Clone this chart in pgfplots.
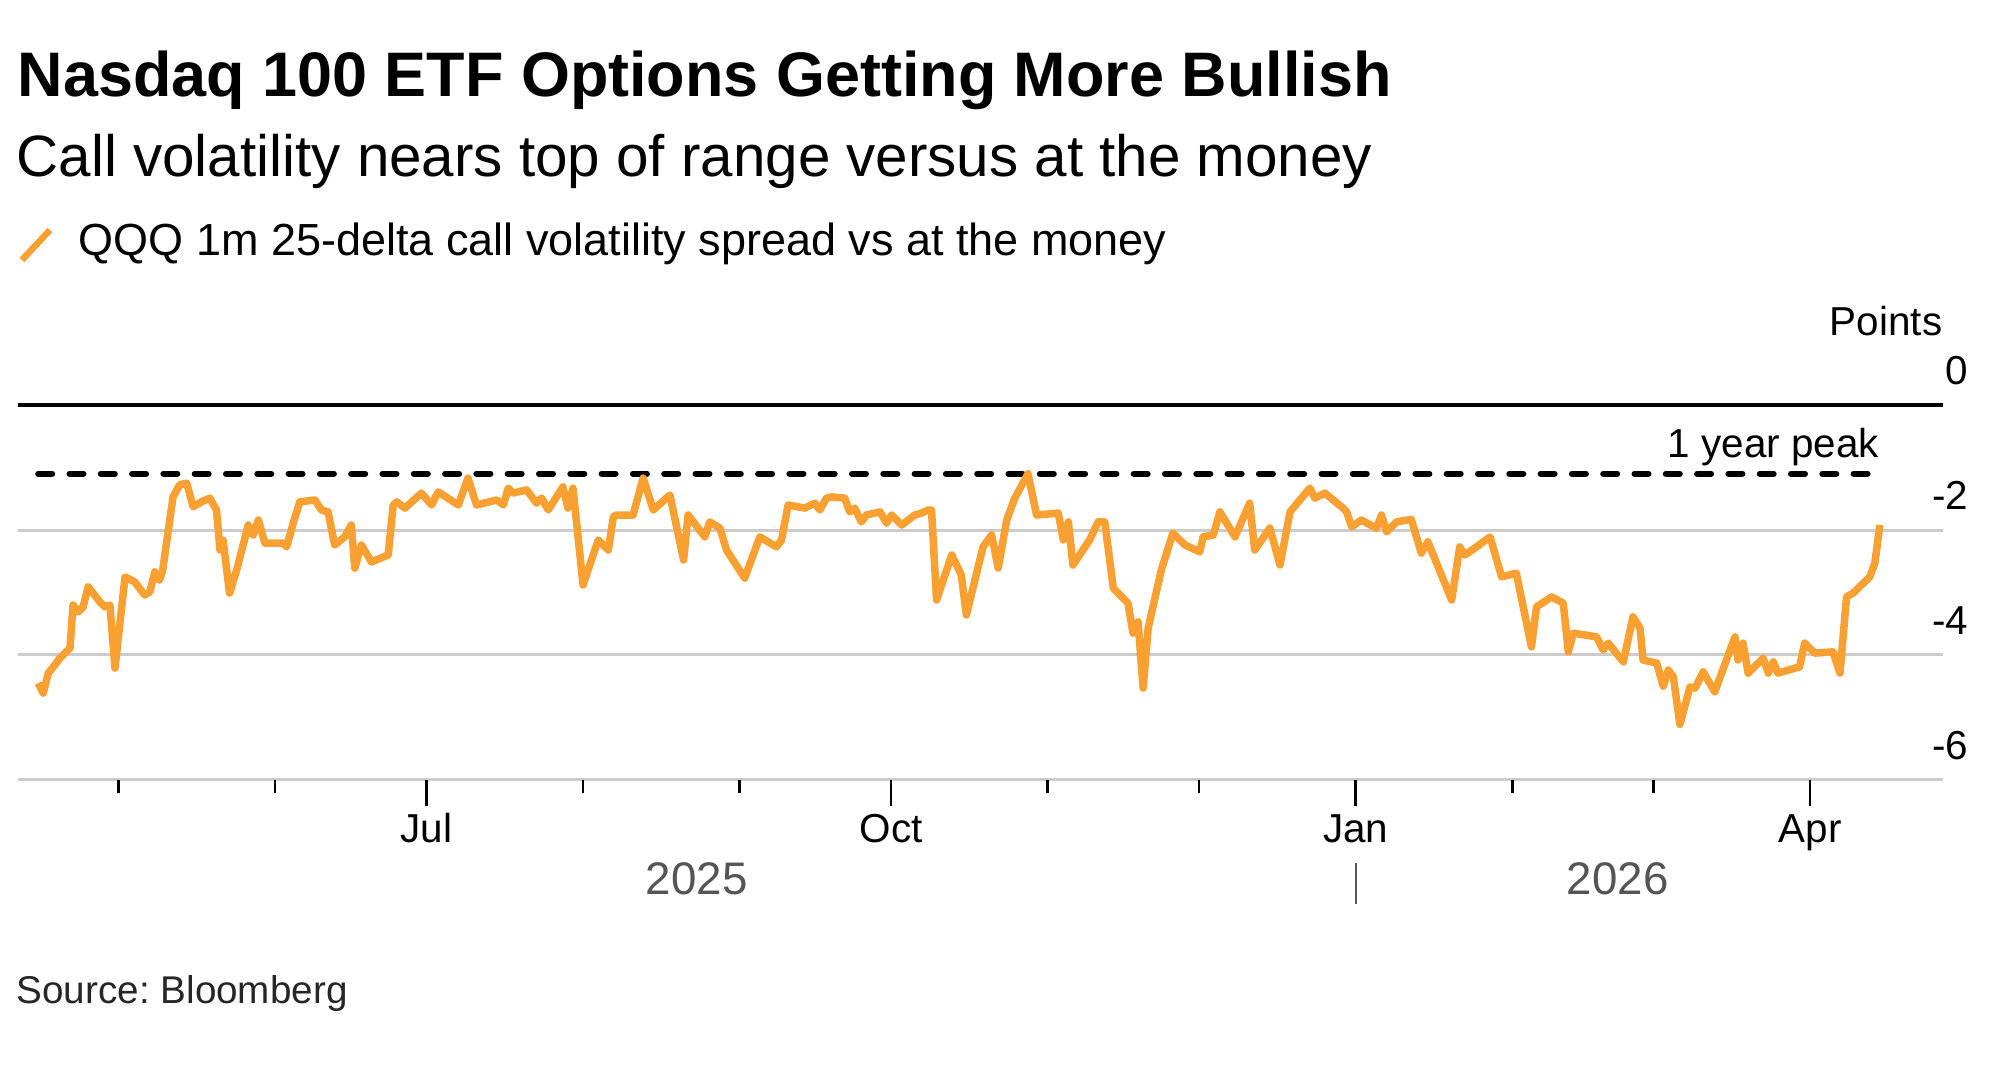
\documentclass[border=0pt]{standalone}
\usepackage{fontspec}
\setmainfont{Liberation Sans}
\usepackage{pgfplots}
\usepackage{pgfplotstable}
\pgfplotsset{compat=1.18}
\definecolor{qqq}{HTML}{F8A032}
\definecolor{gridgray}{HTML}{CCCCCC}
\definecolor{yeargray}{HTML}{555555}
% x = days since 1 Jul 2025, y = spread (points)
\pgfplotstableread{
x y
-76.9 -4.45
-75.9 -4.61
-74.9 -4.29
-73.9 -4.19
-72.6 -4.05
-70.6 -3.89
-70.0 -3.20
-69.0 -3.31
-68.0 -3.23
-67.0 -2.91
-64.7 -3.15
-63.7 -3.23
-62.7 -3.20
-61.7 -4.21
-59.7 -2.75
-57.8 -2.83
-55.8 -3.04
-54.8 -2.99
-53.8 -2.67
-52.9 -2.80
-52.3 -2.67
-50.2 -1.47
-48.9 -1.28
-47.5 -1.25
-46.2 -1.63
-44.6 -1.55
-42.9 -1.49
-41.6 -1.68
-40.9 -2.32
-40.3 -2.16
-39.0 -3.01
-37.6 -2.64
-35.3 -1.92
-34.3 -2.08
-33.3 -1.84
-32.0 -2.21
-28.4 -2.21
-27.7 -2.27
-26.4 -1.89
-25.1 -1.55
-22.1 -1.52
-20.8 -1.68
-19.5 -1.71
-18.2 -2.24
-16.2 -2.11
-14.9 -1.92
-14.2 -2.61
-12.9 -2.24
-10.9 -2.51
-7.6 -2.40
-6.6 -1.60
-5.9 -1.55
-4.3 -1.65
-1.0 -1.41
1.0 -1.60
2.3 -1.39
6.3 -1.60
8.2 -1.17
9.9 -1.60
13.9 -1.52
15.2 -1.60
16.2 -1.33
17.1 -1.41
19.8 -1.36
21.8 -1.57
22.8 -1.49
24.1 -1.68
27.0 -1.31
28.0 -1.65
29.0 -1.33
31.0 -2.88
34.0 -2.16
36.0 -2.32
37.0 -1.79
37.6 -1.76
40.9 -1.76
42.9 -1.17
44.9 -1.68
48.2 -1.44
50.9 -2.48
51.8 -1.76
55.1 -2.11
56.1 -1.87
58.1 -1.97
59.4 -2.32
63.0 -2.77
66.0 -2.11
69.3 -2.27
70.3 -2.16
71.6 -1.60
74.9 -1.65
76.9 -1.57
77.9 -1.68
79.2 -1.49
80.2 -1.47
82.8 -1.49
83.8 -1.71
84.8 -1.65
86.1 -1.87
87.1 -1.76
89.8 -1.71
91.1 -1.89
92.1 -1.76
94.1 -1.92
96.7 -1.76
98.0 -1.73
99.3 -1.68
100.0 -1.68
101.0 -3.12
104.0 -2.40
105.9 -2.72
106.9 -3.36
110.2 -2.27
111.9 -2.08
113.2 -2.61
114.9 -1.84
116.5 -1.49
119.1 -1.10
120.8 -1.76
125.1 -1.73
126.1 -2.16
127.1 -1.87
128.0 -2.56
131.3 -2.16
133.0 -1.87
134.3 -1.87
136.0 -2.93
138.9 -3.17
139.9 -3.65
140.9 -3.47
141.9 -4.53
142.9 -3.57
145.5 -2.64
147.8 -2.05
150.2 -2.24
153.1 -2.35
153.8 -2.11
155.8 -2.08
157.1 -1.71
160.1 -2.11
163.0 -1.57
164.0 -2.32
167.0 -1.97
169.0 -2.56
171.0 -1.71
174.9 -1.33
175.9 -1.49
177.9 -1.41
181.5 -1.65
182.2 -1.71
183.2 -1.95
185.1 -1.84
188.1 -1.97
189.1 -1.76
190.1 -2.03
192.1 -1.87
195.0 -1.83
197.0 -2.37
198.3 -2.19
203.0 -3.12
204.6 -2.27
205.6 -2.40
207.6 -2.29
210.6 -2.11
212.9 -2.75
215.8 -2.69
218.8 -3.87
219.8 -3.23
222.8 -3.07
225.1 -3.17
226.1 -3.95
227.1 -3.65
231.7 -3.71
233.0 -3.92
234.0 -3.81
237.0 -4.11
238.9 -3.39
240.3 -3.57
240.9 -4.08
243.6 -4.13
244.9 -4.50
245.9 -4.24
246.9 -4.35
248.2 -5.11
250.2 -4.51
251.2 -4.53
252.8 -4.27
255.1 -4.59
259.1 -3.71
259.7 -4.08
260.7 -3.81
261.7 -4.29
264.7 -4.05
265.7 -4.29
266.7 -4.11
267.6 -4.29
271.9 -4.19
272.9 -3.81
274.9 -3.97
278.5 -3.95
279.9 -4.29
281.2 -3.07
282.5 -3.01
285.8 -2.75
286.8 -2.53
287.8 -1.92
}\qqqdata
\pgfplotstableread{
x y
-76.9 -1.10
287.8 -1.10
}\peakdata
\newcommand{\lblfont}{\fontsize{11.5pt}{13pt}\selectfont}
\begin{document}
\frenchspacing
\begin{tikzpicture}
\useasboundingbox (0,0) rectangle (200mm,106.5mm);
\node[anchor=base west, inner sep=0pt, font=\fontsize{17.9pt}{20pt}\selectfont\bfseries] at (1.7mm,96.83mm) {Nasdaq 100 ETF Options Getting More Bullish};
\node[anchor=base west, inner sep=0pt, font=\fontsize{16.6pt}{19pt}\selectfont] at (1.6mm,88.83mm) {Call volatility nears top of range versus at the money};
\draw[qqq, line width=0.65mm] (2.2mm,80.5mm) -- (5.0mm,83.5mm);
\node[anchor=base west, inner sep=0pt, font=\fontsize{12.8pt}{15pt}\selectfont] at (7.8mm,80.9mm) {QQQ 1m 25-delta call volatility spread vs at the money};
\node[anchor=base west, inner sep=0pt, font=\fontsize{11pt}{13pt}\selectfont, text=black!85] at (1.6mm,6.1mm) {Source: Bloomberg};
\begin{axis}[
  at={(1.8mm,28.5mm)}, anchor=south west,
  width=192.5mm, height=37.5mm, scale only axis,
  xmin=-80.9, xmax=300.3, ymin=-6, ymax=0,
  clip=false,
  axis line style={draw=none},
  tick align=outside,
  xtick pos=bottom, ytick pos=right,
  xtick={0,92,184,274}, xticklabels={Jul,Oct,Jan,Apr},
  minor xtick={-61,-30,31,62,123,153,215,243},
  major tick length=2.6mm, minor tick length=1.3mm,
  tick style={black, line width=0.25mm},
  ytick style={draw=none},
  ytick={-6,-4,-2}, yticklabels={-6,-4,-2},
  extra y ticks={0}, extra y tick labels={0},
  extra y tick style={major grid style={black, line width=0.4mm}, tick style={draw=none}},
  ymajorgrids=true,
  major grid style={gridgray, line width=0.3mm},
  yticklabel pos=right,
  yticklabel style={anchor=base east, inner sep=0pt, yshift=2mm, font=\lblfont},
  xticklabel style={anchor=base, inner sep=0pt, yshift=-3.7mm, font=\lblfont},
]
\addplot[black, line width=0.6mm, dash pattern=on 1.4mm off 1.73mm, line cap=round] table[x=x,y=y] {\peakdata};
\addplot[qqq, line width=0.75mm, line join=round] table[x=x,y=y] {\qqqdata};
\node[anchor=base east, inner sep=0pt, font=\lblfont] at (axis cs:287.8,-1.10) [yshift=1.6mm] {1 year peak};
\node[anchor=base east, inner sep=0pt, font=\lblfont] at (rel axis cs:1,1) [yshift=7mm] {Points};
\node[anchor=base, inner sep=0pt, font=\fontsize{13pt}{15pt}\selectfont, text=yeargray] at (axis cs:53.5,-6) [yshift=-11.5mm] {2025};
\node[anchor=base, inner sep=0pt, font=\fontsize{13pt}{15pt}\selectfont, text=yeargray] at (axis cs:235.9,-6) [yshift=-11.5mm] {2026};
\draw[yeargray, line width=0.2mm] ([yshift=-8.3mm]axis cs:184,-6) -- ([yshift=-12.4mm]axis cs:184,-6);
\end{axis}
\end{tikzpicture}
\end{document}
